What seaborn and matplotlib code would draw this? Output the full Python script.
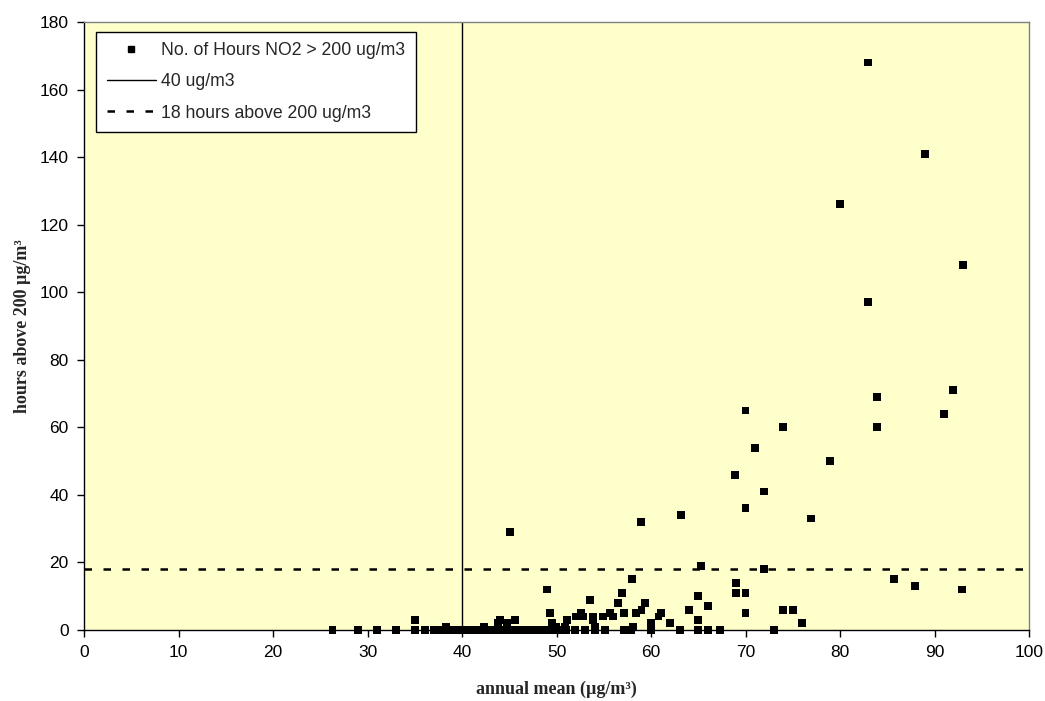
import matplotlib
matplotlib.use("Agg")
import matplotlib.pyplot as plt
import seaborn as sns
import pandas as pd
from matplotlib.lines import Line2D

# annual mean NO2 (ug/m3) and number of hours above 200 ug/m3
annual_mean = [
    26.3, 29, 31, 33, 35, 36.1, 37, 37.5, 38, 38.7, 39.2, 39.7, 40.3, 41, 41.5,
    42, 42.5, 43, 43.5, 44, 44.5, 45, 45.5, 46, 46.5, 47, 47.5, 48, 48.5, 49,
    49.5, 50, 50.5, 51, 52, 53, 54.1, 55.1, 57.1, 57.9, 60, 63.1, 65, 66, 67.3, 73,
    35, 38.3, 42.3, 43.8, 44, 44.8, 45.6, 45.1, 49, 49.3, 49.5, 50, 50.9, 51.1,
    52.1, 52.6, 52.8, 53.5, 53.9, 53.9, 54.1, 54.9, 55.7, 56, 56.5, 56.9, 57.1,
    58, 58.1, 58.4, 59, 59.4, 58.9, 60, 60.8, 61.1, 62, 63.2, 64, 65, 65, 65.3,
    66, 69, 69, 68.9, 70, 70, 70, 70, 71, 72, 72, 74, 74, 75, 76, 76.9, 78.9,
    80, 83, 83, 83.9, 83.9, 85.7, 87.9, 89, 91, 92, 92.9, 93,
]
hours_above = [
    0, 0, 0, 0, 0, 0, 0, 0, 0, 0, 0, 0, 0, 0, 0,
    0, 0, 0, 0, 0, 0, 0, 0, 0, 0, 0, 0, 0, 0, 0,
    0, 0, 0, 0, 0, 0, 0, 0, 0, 0, 0, 0, 0, 0, 0, 0,
    3, 1, 1, 2, 3, 2, 3, 29, 12, 5, 2, 1, 1, 3,
    4, 5, 4, 9, 4, 3, 1, 4, 5, 4, 8, 11, 5,
    15, 1, 5, 6, 8, 32, 2, 4, 5, 2, 34, 6, 10, 3, 19,
    7, 14, 11, 46, 11, 5, 65, 36, 54, 41, 18, 60, 6, 6, 2, 33, 50,
    126, 168, 97, 69, 60, 15, 13, 141, 64, 71, 12, 108,
]

limit_mean = 40
limit_hours = 18

df = pd.DataFrame({"annual_mean": annual_mean, "hours": hours_above})

sns.set_style("ticks")
plt.rcParams["font.family"] = ["Liberation Sans", "DejaVu Sans"]

fig = plt.figure(figsize=(10.45, 7.01), dpi=100)
ax = fig.add_axes([84 / 1045, 1 - 630 / 701, (1029 - 84) / 1045, (630 - 22) / 701])
ax.set_facecolor("#FFFFCC")

sns.scatterplot(data=df, x="annual_mean", y="hours", ax=ax, marker="s",
                s=32, color="black", edgecolor="none", zorder=3, legend=False,
                clip_on=False)
ax.axvline(limit_mean, color="black", lw=1.0, zorder=2)
ax.axhline(limit_hours, color="black", lw=1.8, dashes=(3, 4.6), zorder=2)

ax.set_xlim(0, 100)
ax.set_ylim(0, 180)
ax.set_xticks(range(0, 101, 10))
ax.set_yticks(range(0, 181, 20))
ax.tick_params(axis="both", labelsize=12.5, direction="out", length=5, width=1,
               colors="black", pad=6)

for side in ["top", "right"]:
    ax.spines[side].set_color("#808080")
    ax.spines[side].set_linewidth(1.0)
for side in ["left", "bottom"]:
    ax.spines[side].set_color("black")
    ax.spines[side].set_linewidth(1.0)

ax.set_xlabel("annual mean (µg/m³)", family=["Liberation Serif", "DejaVu Serif"],
              fontsize=13, fontweight="bold", labelpad=15)
ax.set_ylabel("hours above 200 µg/m³", family=["Liberation Serif", "DejaVu Serif"],
              fontsize=13, fontweight="bold", labelpad=6)

handles = [
    Line2D([], [], ls="none", marker="s", ms=5, color="black"),
    Line2D([], [], color="black", lw=1.0),
    Line2D([], [], color="black", lw=1.8, dashes=(3, 4.6)),
]
labels = ["No. of Hours NO2 > 200 ug/m3", "40 ug/m3", "18 hours above 200 ug/m3"]
leg = ax.legend(handles, labels, loc="upper left", bbox_to_anchor=(0.0127, 0.984),
                borderaxespad=0, fontsize=12.7, frameon=True, fancybox=False,
                framealpha=1, edgecolor="black", numpoints=1, handlelength=2.8,
                labelspacing=0.8, borderpad=0.6, handletextpad=0.3)
leg.get_frame().set_linewidth(1.0)

fig.savefig("out.png", dpi=100, facecolor="white")
